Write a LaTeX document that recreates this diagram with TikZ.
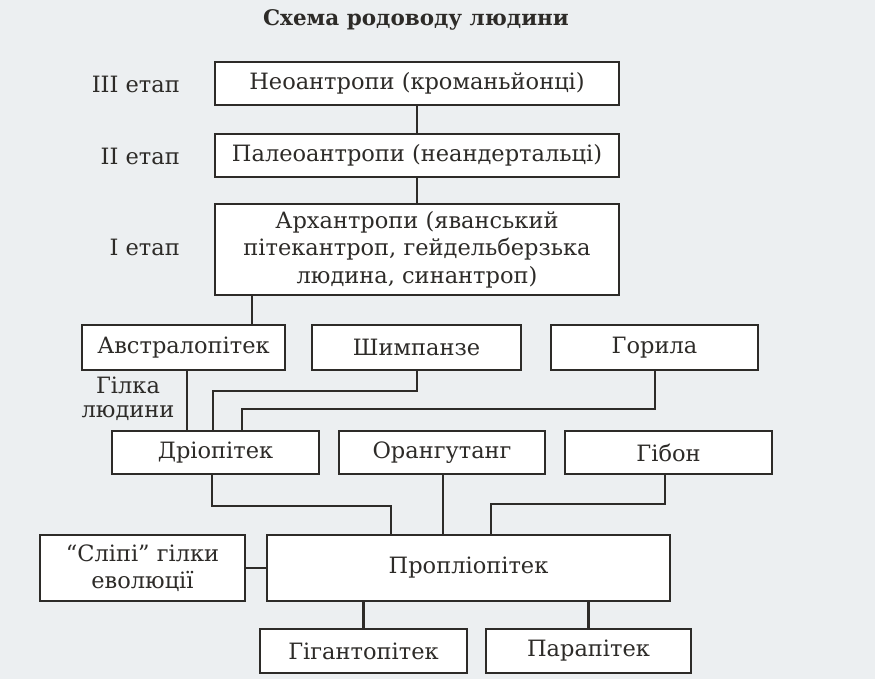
\documentclass[tikz,border=0pt]{standalone}
\usepackage{fontspec}
\setmainfont{DejaVu Serif}
\definecolor{bg}{RGB}{236,239,241}
\definecolor{ink}{RGB}{45,43,40}
\begin{document}
\begin{tikzpicture}[x=1pt,y=-1pt,
  box/.style={draw=ink,line width=2.6pt,fill=white,inner sep=0pt,align=center,text=ink,font=\fontsize{22.5}{27.5}\selectfont},
  lbl/.style={inner sep=0pt,text=ink,font=\fontsize{22.5}{24}\selectfont,align=center},
  conn/.style={draw=ink,line width=2.6pt}]
\fill[bg] (0,0) rectangle (875,679);
\useasboundingbox (0,0) rectangle (875,679);
\node[lbl,font=\bfseries\fontsize{21.5}{24}\selectfont] (title) at (416,20) {Схема родоводу людини};
% top column
\node[box,minimum width=404pt,minimum height=43pt] (neo) at (417,83.5) {Неоантропи (кроманьйонці)};
\node[box,minimum width=404pt,minimum height=43pt] (paleo) at (417,155.5) {Палеоантропи (неандертальці)};
\node[box,minimum width=404pt,minimum height=91pt] (arch) at (417,249.5) {Архантропи (яванський\\пітекантроп, гейдельберзька\\людина, синантроп)};
\node[lbl,anchor=east] (st3) at (180,84) {ІІІ етап};
\node[lbl,anchor=east] (st2) at (180,156) {ІІ етап};
\node[lbl,anchor=east] (st1) at (180,247) {І етап};
% row 1
\node[box,minimum width=203pt,minimum height=45pt] (austr) at (183.5,347.5) {Австралопітек};
\node[box,minimum width=209pt,minimum height=45pt] (chimp) at (416.5,347.5) {Шимпанзе};
\node[box,minimum width=207pt,minimum height=45pt] (gor) at (654.5,347.5) {Горила};
\node[lbl,font=\fontsize{22.5}{24}\selectfont] (branch) at (128,399) {Гілка\\людини};
% row 2
\node[box,minimum width=207pt,minimum height=43pt] (dryo) at (215.5,452.5) {Дріопітек};
\node[box,minimum width=206pt,minimum height=43pt] (orang) at (442,452.5) {Орангутанг};
\node[box,minimum width=207pt,minimum height=43pt] (gib) at (668.5,452.5) {Гібон};
% row 3
\node[box,minimum width=205pt,minimum height=66pt] (blind) at (142.5,568) {“Сліпі” гілки\\еволюції};
\node[box,minimum width=403pt,minimum height=66pt] (prop) at (468.5,568) {Пропліопітек};
% row 4
\node[box,minimum width=207pt,minimum height=44pt] (gig) at (363.5,651) {Гігантопітек};
\node[box,minimum width=205pt,minimum height=44pt] (para) at (588.5,651) {Парапітек};
% connectors
\draw[conn] (neo.south) -- (paleo.north);
\draw[conn] (paleo.south) -- (arch.north);
\draw[conn] (arch.south -| 252,0) -- (austr.north -| 252,0);
\draw[conn] (austr.south -| 187,0) -- (dryo.north -| 187,0);
\draw[conn] (chimp.south -| 417,0) |- (213,391) -- (dryo.north -| 213,0);
\draw[conn] (gor.south -| 655,0) |- (242,409) -- (dryo.north -| 242,0);
\draw[conn] (dryo.south -| 212,0) |- (391,506) -- (prop.north -| 391,0);
\draw[conn] (orang.south -| 443,0) -- (prop.north -| 443,0);
\draw[conn] (gib.south -| 665,0) |- (491,504) -- (prop.north -| 491,0);
\draw[conn] (blind.east) -- (prop.west);
\draw[conn] (prop.south -| gig.north) -- (gig.north);
\draw[conn] (prop.south -| para.north) -- (para.north);
\end{tikzpicture}
\end{document}
